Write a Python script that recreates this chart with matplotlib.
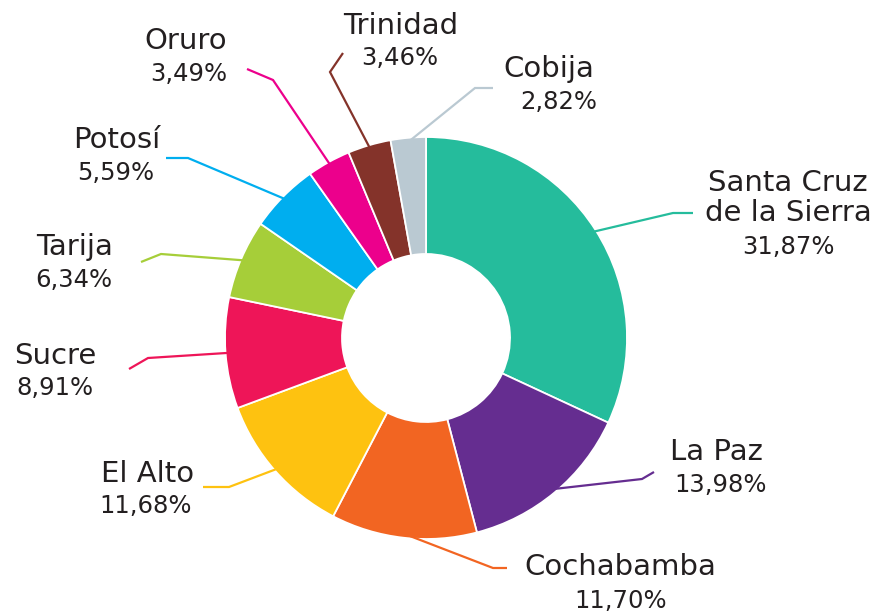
import matplotlib
matplotlib.use("Agg")
import matplotlib.pyplot as plt
import numpy as np

# ---- data ----
cities = ["Santa Cruz\nde la Sierra", "La Paz", "Cochabamba", "El Alto", "Sucre",
          "Tarija", "Potosí", "Oruro", "Trinidad", "Cobija"]
shares = [31.87, 13.98, 11.70, 11.68, 8.91, 6.34, 5.59, 3.49, 3.46, 2.82]
pct_labels = ["31,87%", "13,98%", "11,70%", "11,68%", "8,91%",
              "6,34%", "5,59%", "3,49%", "3,46%", "2,82%"]
colors = ["#25BC9C", "#652D90", "#F26522", "#FEC210", "#EE1558",
          "#A6CE39", "#00AEEF", "#EC008C", "#84332A", "#BAC9D2"]

# ---- layout (pixel space, y down) ----
W, H = 876, 614
center = (426, 338)
R_out = 201
R_in = 84
# leader elbow and end points
elbows = [(673, 213), (642, 479), (493, 568), (229, 487), (148, 358),
          (161, 254), (188, 158), (273, 80), (330, 72), (475, 88)]
ends = [(693, 213), (654, 472), (507, 568), (203, 487), (129, 369),
        (141, 262), (166, 158), (247, 69), (343, 53), (493, 88)]
# name label (x center, baseline of last line), pct label (x center, baseline)
name_pos = [(788, 221), (716, 460), (620, 575), (148, 482), (55, 364),
            (75, 255), (117, 148), (186, 49), (401, 34), (549, 77)]
pct_pos = [(788, 254), (721, 492), (621, 608), (146, 513), (55, 395),
           (74, 287), (116, 180), (189, 81), (400, 65), (559, 109)]

fig = plt.figure(figsize=(W / 100, H / 100), dpi=100)
ax = fig.add_axes([0, 0, 1, 1])

# y axis inverted: visual clockwise from top == data counterclockwise from -90
wedges, _ = ax.pie(shares, colors=colors, startangle=-90, counterclock=True,
                   center=center, radius=R_out, frame=True,
                   wedgeprops=dict(width=R_out - R_in, edgecolor="white",
                                   linewidth=1.3))
ax.set_xlim(0, W)
ax.set_ylim(H, 0)
ax.set_aspect("equal")
ax.axis("off")

txt_color = "#231F20"
for w, col, el, en, name, pct, npos, ppos in zip(wedges, colors, elbows, ends,
                                                  cities, pct_labels, name_pos, pct_pos):
    ang = np.deg2rad((w.theta1 + w.theta2) / 2)
    sx = center[0] + R_out * 0.98 * np.cos(ang)
    sy = center[1] + R_out * 0.98 * np.sin(ang)
    ax.plot([sx, el[0], en[0]], [sy, el[1], en[1]], color=col, lw=1.6,
            solid_capstyle="butt", solid_joinstyle="miter", zorder=3)
    ax.text(npos[0], npos[1], name, ha="center", va="baseline", fontsize=21,
            color=txt_color, family="DejaVu Sans",
            linespacing=1.08, multialignment="center")
    ax.text(ppos[0], ppos[1], pct, ha="center", va="baseline", fontsize=17.5,
            color=txt_color, family="DejaVu Sans")

fig.savefig("out.png", dpi=100)
